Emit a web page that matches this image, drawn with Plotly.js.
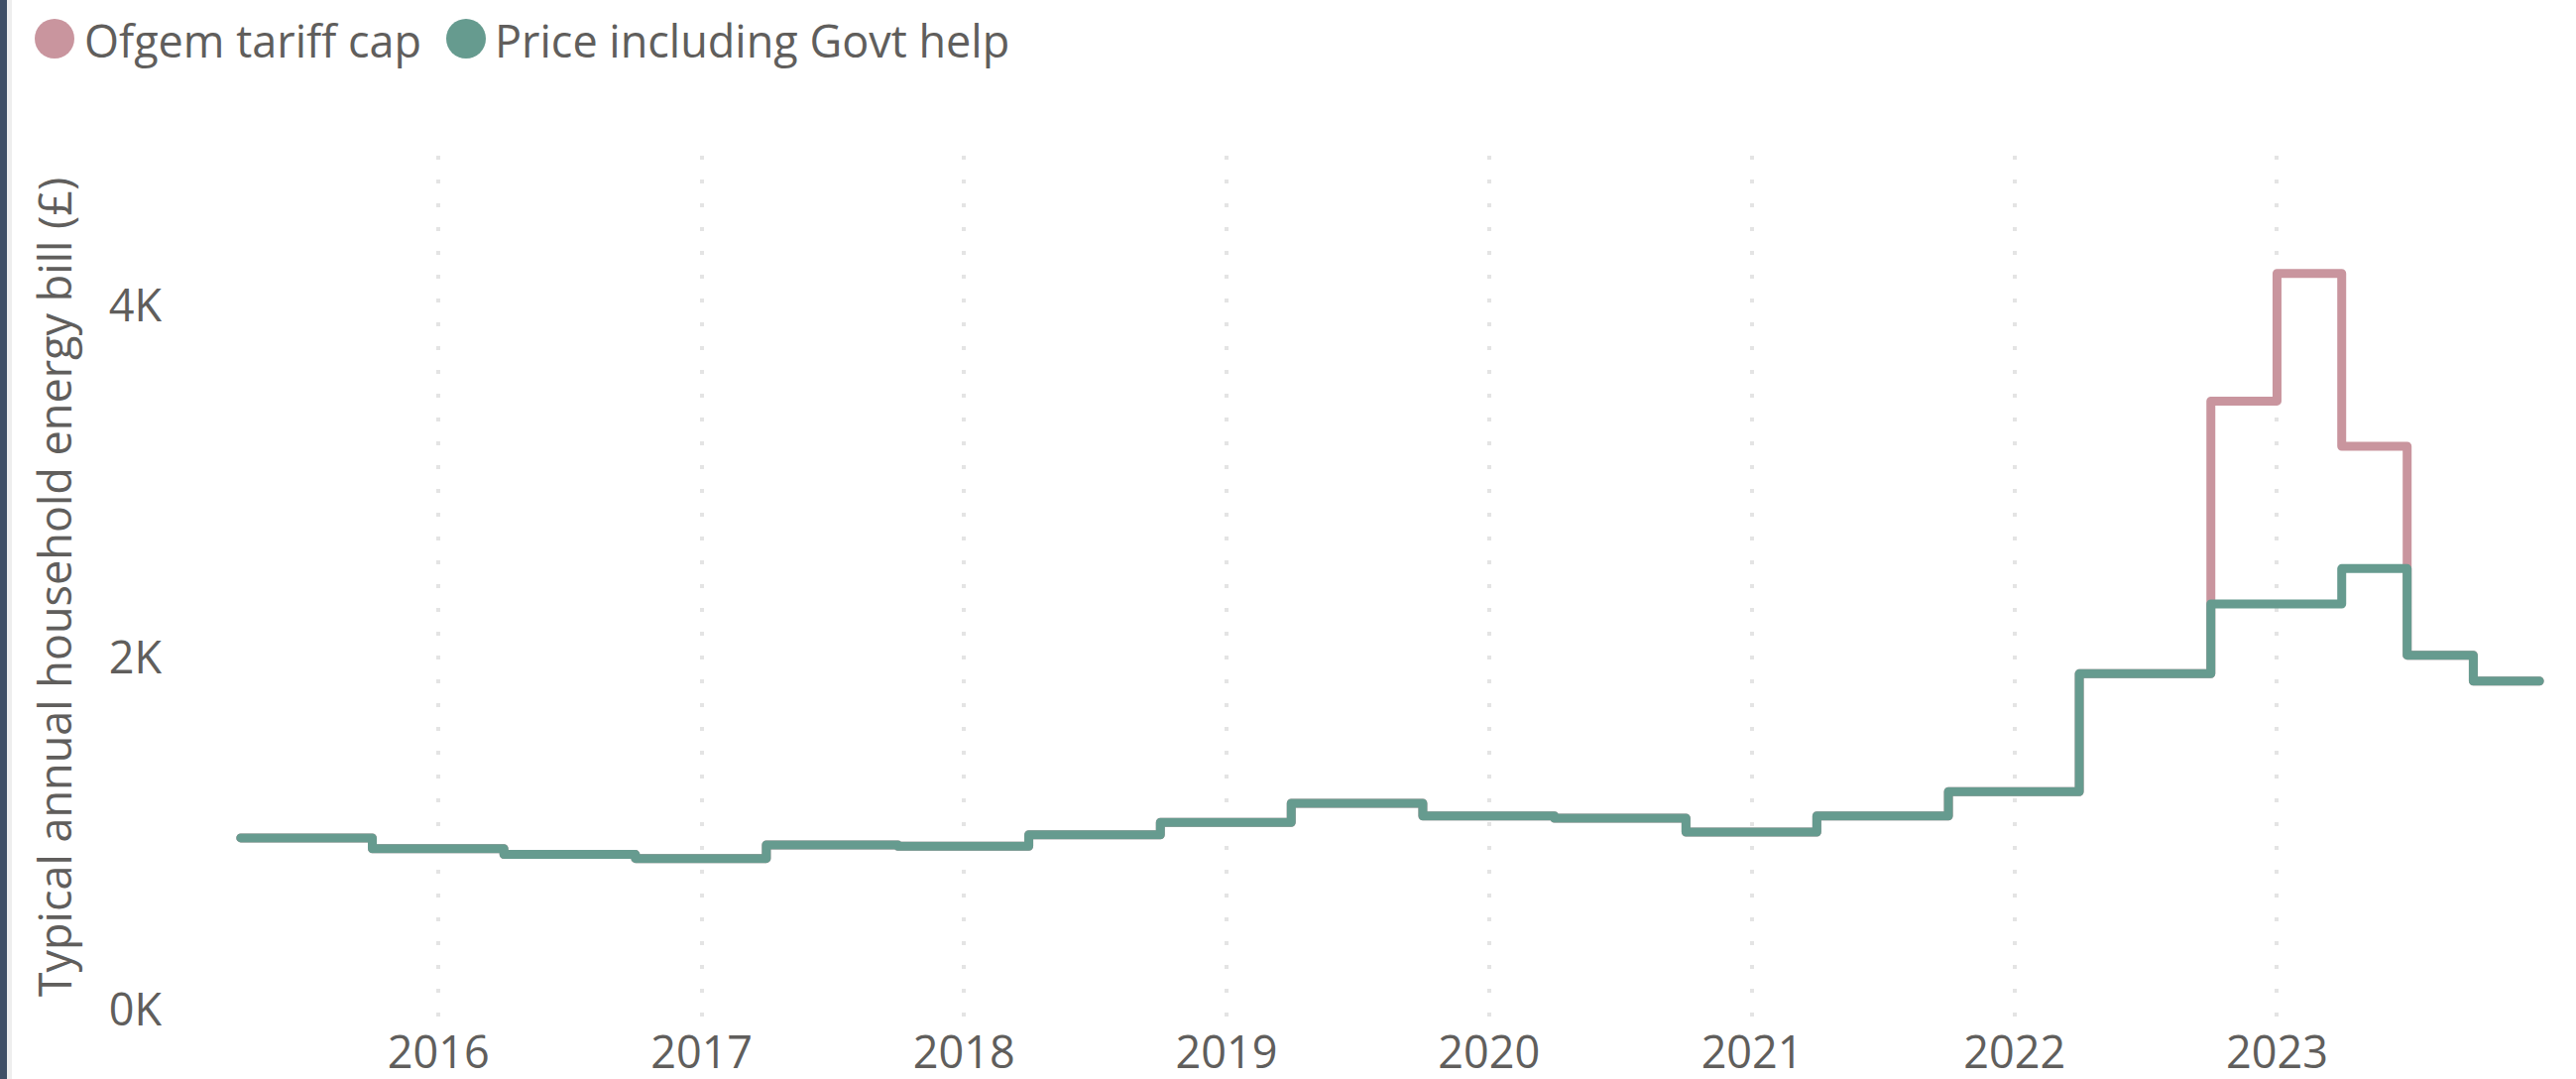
<!DOCTYPE html>
<html>
<head>
<meta charset="utf-8">
<script src="https://cdn.plot.ly/plotly-3.0.1.min.js"></script>
<style>
  html, body { margin: 0; padding: 0; background: #ffffff; overflow: hidden; }
  #wrap { position: relative; width: 2598px; height: 1088px; }
  #chart { width: 2598px; height: 1088px; }
  #barDark { position: absolute; left: 0; top: 0; width: 7px; height: 1088px; background: #3f4f66; }
  #barLight { position: absolute; left: 7px; top: 0; width: 5px; height: 1088px; background: #eeeeee; }
  .js-line { stroke-linecap: round !important; stroke-linejoin: round !important; }
</style>
</head>
<body>
<div id="wrap">
  <div id="chart"></div>
  <div id="barDark"></div>
  <div id="barLight"></div>
</div>
<script>
// Period start dates (price cap periods) plus the end of the last period
const periodStarts = [
  '2015-04-01','2015-10-01','2016-04-01','2016-10-01','2017-04-01','2017-10-01',
  '2018-04-01','2018-10-01','2019-04-01','2019-10-01','2020-04-01','2020-10-01',
  '2021-04-01','2021-10-01','2022-04-01','2022-10-01','2023-01-01','2023-04-01',
  '2023-07-01','2023-10-01'
];
const lastPeriodEnd = '2024-01-01';

// Typical annual household energy bill (£)
const ofgemTariffCap = [
  975, 914, 881, 858, 935, 928,
  993, 1063, 1172, 1100, 1087, 1008,
  1100, 1238, 1908, 3457, 4182, 3200,
  2013, 1866
];
const priceWithGovtHelp = [
  975, 914, 881, 858, 935, 928,
  993, 1063, 1172, 1100, 1087, 1008,
  1100, 1238, 1908, 2304, 2304, 2505,
  2013, 1866
];

const seriesNames = ['Ofgem tariff cap', 'Price including Govt help'];
const seriesColors = ['#c9959e', '#669b8f'];

const yTickVals = [0, 2000, 4000];
const yTickText = ['0K', '2K', '4K'];
const xTickVals = ['2016-01-01','2017-01-01','2018-01-01','2019-01-01','2020-01-01','2021-01-01','2022-01-01','2023-01-01'];
const xTickText = ['2016','2017','2018','2019','2020','2021','2022','2023'];
const yTitle = 'Typical annual household energy bill (£)';

const FONT = '"Segoe UI", "Open Sans", "Noto Sans", sans-serif';
const TEXT = '#605e5c';

function stepSeries(values) {
  return {
    x: periodStarts.concat([lastPeriodEnd]),
    y: values.concat([values[values.length - 1]])
  };
}

const s0 = stepSeries(ofgemTariffCap);
const s1 = stepSeries(priceWithGovtHelp);

const traces = [
  { x: s0.x, y: s0.y, type: 'scatter', mode: 'lines', name: seriesNames[0],
    line: { color: seriesColors[0], width: 9, shape: 'hv' }, showlegend: false },
  { x: s1.x, y: s1.y, type: 'scatter', mode: 'lines', name: seriesNames[1],
    line: { color: seriesColors[1], width: 9, shape: 'hv' }, showlegend: false }
];

// Custom legend (large circles like the reference)
const legendItems = [
  { circleLeft: 35, textLeft: 83 },
  { circleLeft: 450, textLeft: 497 }
];
const ML = 200, MT = 157;
const shapes = [];
const annotations = [];
legendItems.forEach((it, i) => {
  shapes.push({
    type: 'circle', xref: 'paper', yref: 'paper',
    xsizemode: 'pixel', ysizemode: 'pixel', xanchor: 0, yanchor: 1,
    x0: it.circleLeft - ML, x1: it.circleLeft + 40 - ML,
    y0: MT - 59, y1: MT - 19,
    fillcolor: seriesColors[i], line: { width: 0 }
  });
  annotations.push({
    xref: 'paper', yref: 'paper', x: 0, y: 1,
    xanchor: 'left', yanchor: 'middle',
    xshift: it.textLeft - ML, yshift: MT - 40,
    text: seriesNames[i], showarrow: false,
    font: { family: FONT, size: 45, color: TEXT }
  });
});

const layout = {
  width: 2598, height: 1088,
  margin: { l: 200, r: 18, t: 157, b: 61 },
  paper_bgcolor: '#ffffff', plot_bgcolor: '#ffffff',
  font: { family: FONT, size: 45, color: TEXT },
  showlegend: false,
  hovermode: false,
  xaxis: {
    type: 'date',
    range: ['2015-02-01', '2024-01-27'],
    tickvals: xTickVals, ticktext: xTickText,
    showgrid: true, gridcolor: '#e4e4e4', gridwidth: 4, griddash: '4px,20px',
    zeroline: false, showline: false, ticks: '',
    ticklabelstandoff: 4,
    tickfont: { family: FONT, size: 45, color: TEXT },
    automargin: false
  },
  yaxis: {
    range: [-51, 4851],
    tickvals: yTickVals, ticktext: yTickText,
    showgrid: false, zeroline: false, showline: false, ticks: '',
    ticklabelstandoff: 36,
    tickfont: { family: FONT, size: 45, color: TEXT },
    title: { text: yTitle, standoff: 22, font: { family: FONT, size: 45, color: TEXT } },
    automargin: false
  },
  shapes: shapes,
  annotations: annotations
};

Plotly.newPlot('chart', traces, layout, { displayModeBar: false, staticPlot: true });
</script>
</body>
</html>
